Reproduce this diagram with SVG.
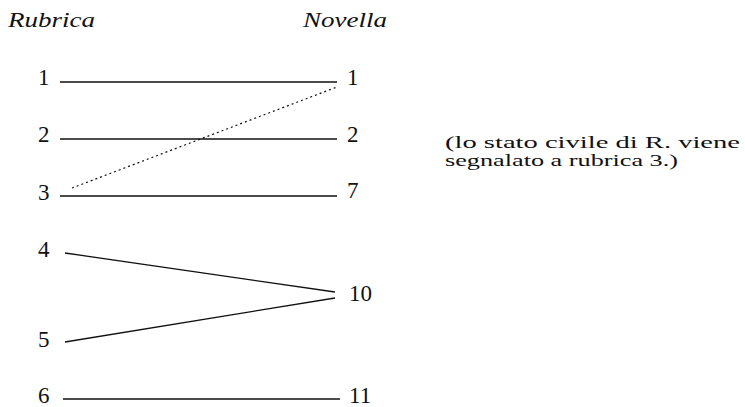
<svg xmlns="http://www.w3.org/2000/svg" width="745" height="407" viewBox="0 0 745 407">
<style>
.bg{fill:#fff}
text{font-family:'Liberation Serif','Times New Roman',Times,'DejaVu Serif',serif;fill:#111}
.head{font-style:italic;font-size:22px}
.num{font-size:23px}
.note{font-size:16px}
.ln{stroke:#111;stroke-width:1.3;fill:none}
.dot{stroke:#111;stroke-width:1.2;fill:none;stroke-dasharray:2 3}
</style>
<rect class="bg" x="0" y="0" width="745" height="407"/>
<g id="headers">
<text class="head" x="8" y="27" textLength="87" lengthAdjust="spacingAndGlyphs">Rubrica</text>
<text class="head" x="303" y="27" textLength="84" lengthAdjust="spacingAndGlyphs">Novella</text>
</g>
<g id="r1"><text class="num" x="38" y="85">1</text></g>
<g id="r2"><text class="num" x="38" y="142">2</text></g>
<g id="r3"><text class="num" x="38" y="200">3</text></g>
<g id="r4"><text class="num" x="38" y="257">4</text></g>
<g id="r5"><text class="num" x="38" y="347">5</text></g>
<g id="r6"><text class="num" x="38" y="403">6</text></g>
<g id="n1"><text class="num" x="347" y="85">1</text></g>
<g id="n2"><text class="num" x="347" y="142">2</text></g>
<g id="n7"><text class="num" x="347" y="198">7</text></g>
<g id="n10"><text class="num" x="349" y="301">10</text></g>
<g id="n11"><text class="num" x="349" y="403">11</text></g>
<g id="note">
<text class="note" x="445" y="148" textLength="295" lengthAdjust="spacingAndGlyphs">(lo stato civile di R. viene</text>
<text class="note" x="445" y="166" textLength="233" lengthAdjust="spacingAndGlyphs">segnalato a rubrica 3.)</text>
</g>
<g id="connectors">
<line class="ln" x1="60" y1="82" x2="337" y2="82"/>
<line class="ln" x1="60" y1="139" x2="337" y2="139"/>
<line class="ln" x1="60" y1="196" x2="337" y2="196"/>
<line class="dot" x1="72" y1="188" x2="337" y2="87"/>
<line class="ln" x1="65" y1="253" x2="335" y2="292"/>
<line class="ln" x1="65" y1="342" x2="335" y2="298"/>
<line class="ln" x1="63" y1="399" x2="340" y2="399"/>
</g>
</svg>
